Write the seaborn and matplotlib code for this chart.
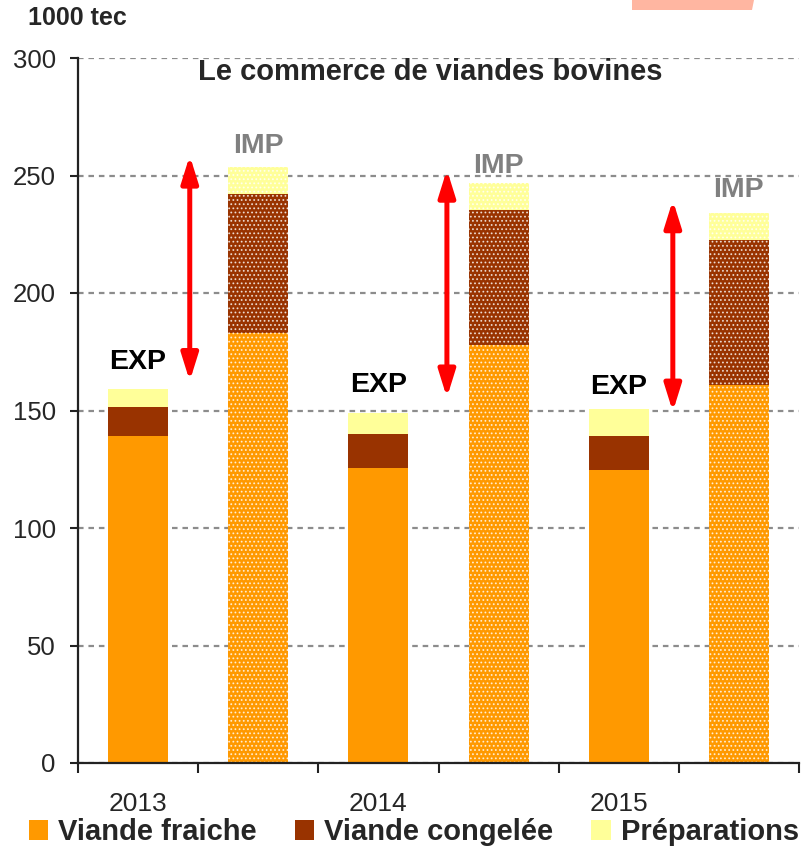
import matplotlib
matplotlib.use("Agg")
import matplotlib.pyplot as plt
from matplotlib.patches import Patch, Polygon
import pandas as pd
import seaborn as sns

# --- data (1000 tec) ---
years = ["2013", "2014", "2015"]
flows = ["EXP", "IMP"]
fraiche = [139.0, 183.0, 125.5, 178.0, 124.5, 161.0]
congelee = [12.5, 59.0, 14.5, 57.5, 14.5, 61.5]
preparations = [7.5, 11.5, 9.0, 11.5, 11.5, 11.5]
series_names = ["Viande fraiche", "Viande congelée", "Préparations"]

# gap arrows between exports and imports of each year
arrow_x = [0.43, 2.57, 4.45]
arrow_top = [255.0, 249.0, 236.0]
arrow_bottom = [166.0, 159.0, 153.0]

# how far each EXP/IMP label sits above its bar
label_offset = [11.5, 9.0, 12.0, 7.0, 9.5, 10.0]

col_fraiche = "#FF9900"
col_congelee = "#993300"
col_prep = "#FFFF99"

bars = [f"{f} {y}" for y in years for f in flows]
df = pd.DataFrame({
    "bar": bars,
    "flow": [f for _ in years for f in flows],
    "fraiche": fraiche,
    "congelee": congelee,
    "prep": preparations,
})
df["cong_top"] = df["fraiche"] + df["congelee"]
df["total"] = df["cong_top"] + df["prep"]

sns.set_style("white")
plt.rcParams["font.family"] = ["Liberation Sans", "DejaVu Sans"]
plt.rcParams["hatch.linewidth"] = 0.8

fig = plt.figure(figsize=(8.05, 8.48), dpi=100)
ax = fig.add_axes([78 / 805, 1 - 763 / 848, 721 / 805, 705 / 848])
ax.set_axisbelow(True)

# stacked bars drawn back to front
for col, color in [("total", col_prep), ("cong_top", col_congelee), ("fraiche", col_fraiche)]:
    sns.barplot(data=df, x="bar", y=col, order=bars, color=color, saturation=1,
                width=0.5, errorbar=None, ax=ax, zorder=2)

for i, p in enumerate(ax.patches):
    p.set_linewidth(0)
    if df["flow"].iloc[i % len(bars)] == "IMP":
        p.set_hatch("....")
        p.set_edgecolor((1, 1, 1, 0.75))

# EXP / IMP labels
for i, row in df.iterrows():
    is_imp = row["flow"] == "IMP"
    ax.text(i, row["total"] + label_offset[i], row["flow"], ha="center", va="center",
            fontsize=20.5, fontweight="bold",
            color="#808080" if is_imp else "black")

# red double arrows (ends pushed out a little so the stroked heads reach the values)
head_pad = 3.5
for x, top, bot in zip(arrow_x, arrow_top, arrow_bottom):
    ax.annotate("", xy=(x, top + head_pad), xytext=(x, bot - head_pad),
                arrowprops=dict(arrowstyle="<|-|>,head_length=1.6,head_width=0.5",
                                color="#FF0000", lw=3.6, shrinkA=0, shrinkB=0),
                zorder=4)

ax.set_ylim(0, 300)
ax.set_xlim(-0.5, 5.5)
ax.set_yticks(range(0, 301, 50))
ax.set_xticks([i - 0.5 for i in range(len(bars) + 1)])
ax.set_xticklabels([])
ax.set_xticks([0, 2, 4], minor=True)
ax.set_xticklabels(years, minor=True)
ax.set_xlabel("")
ax.set_ylabel("")

ax.grid(axis="y", color="#8C8C8C", linestyle=(0, (2.5, 2.2)), linewidth=1.6)
ax.grid(axis="x", visible=False)
for s in ["top", "right"]:
    ax.spines[s].set_visible(False)
for s in ["left", "bottom"]:
    ax.spines[s].set_color("#222222")
    ax.spines[s].set_linewidth(1.6)

ax.tick_params(axis="y", which="major", direction="out", length=6, width=1.5,
               color="#222222", labelsize=18.5, pad=10, left=True)
ax.tick_params(axis="x", which="major", direction="out", length=7, width=1.5,
               color="#222222", bottom=True)
ax.tick_params(axis="x", which="minor", length=0, labelsize=19, pad=21)

# title and unit
fig.text(430 / 805, 1 - 72 / 848, "Le commerce de viandes bovines",
         ha="center", va="center", fontsize=21, fontweight="bold")
fig.text(28 / 805, 1 - 18 / 848, "1000 tec", ha="left", va="center",
         fontsize=18, fontweight="bold")

# salmon tab at the top edge
fig.patches.append(Polygon([(632 / 805, 1.0), (754 / 805, 1.0),
                            (752 / 805, 1 - 10 / 848), (632 / 805, 1 - 10 / 848)],
                           closed=True, transform=fig.transFigure,
                           facecolor="#FFB6A1", edgecolor="none"))

handles = [Patch(facecolor=c, edgecolor="none")
           for c in (col_fraiche, col_congelee, col_prep)]
fig.legend(handles, series_names, loc="center", ncol=3,
           bbox_to_anchor=(414 / 805, 1 - 832 / 848), frameon=False,
           prop=dict(size=21, weight="bold"), handlelength=0.66, handleheight=0.66,
           handletextpad=0.35, columnspacing=1.3, borderaxespad=0, borderpad=0)

fig.savefig("out.png", dpi=100)
